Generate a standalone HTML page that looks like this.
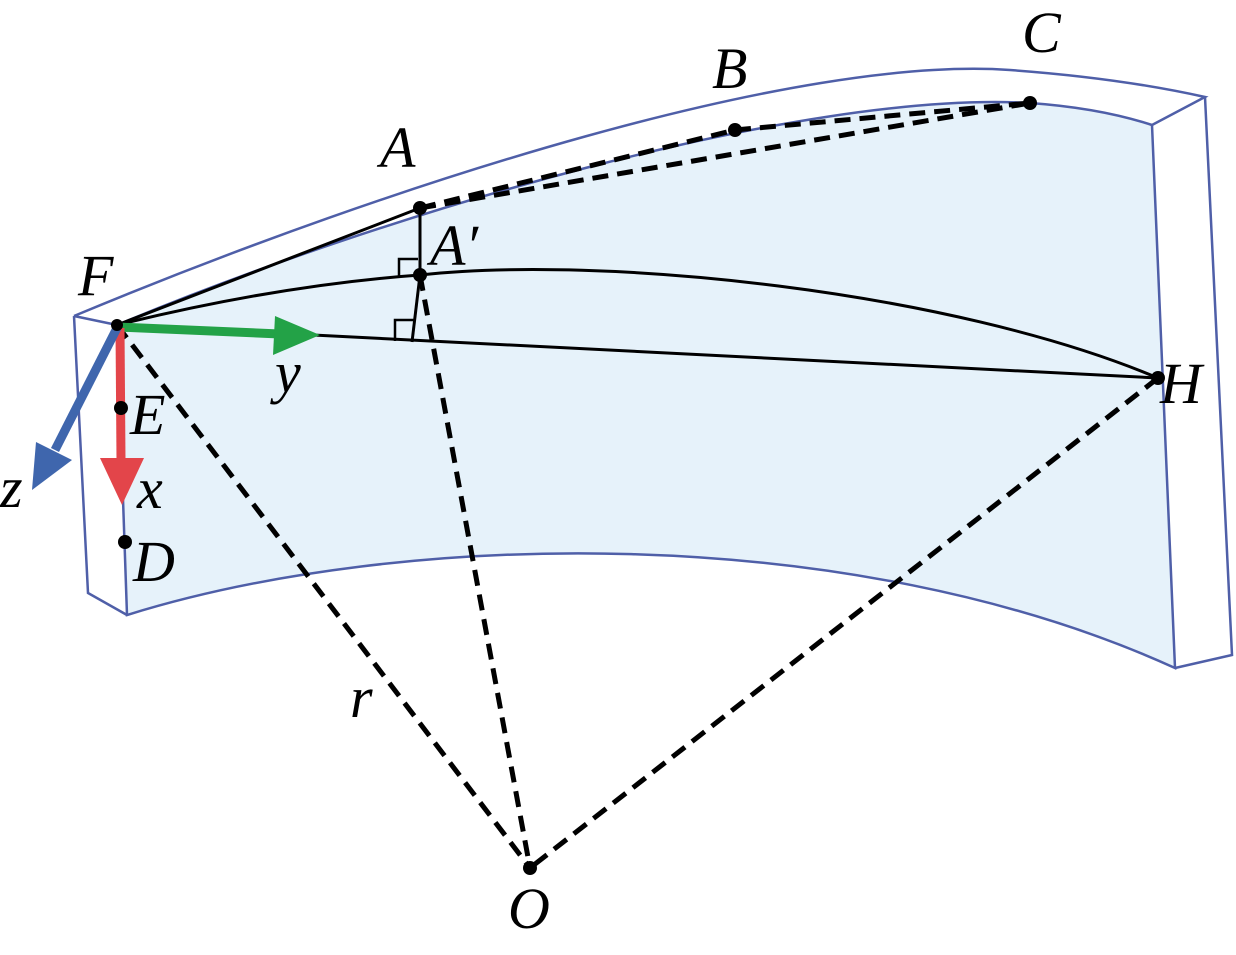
<!DOCTYPE html>
<html><head><meta charset="utf-8"><style>
html,body{margin:0;padding:0;background:#fff;}
svg text{font-family:"Liberation Serif",serif;font-style:italic;fill:#000;}
</style></head><body>
<svg width="1236" height="950" viewBox="0 0 1236 950" xmlns="http://www.w3.org/2000/svg">
<!-- front face -->
<path d="M117,325 C380,215 800,90 1030,103 Q1100,108 1152,125 L1175,668 C850,520 400,530 127,615 Z" fill="#e6f2fa" stroke="#4f5fa8" stroke-width="2.5"/>
<!-- top face -->
<path d="M74,316 C400,180 800,55 1010,70 Q1120,78 1205,97 L1152,125" fill="none" stroke="#4f5fa8" stroke-width="2.5"/>
<path d="M74,316 L117,325" fill="none" stroke="#4f5fa8" stroke-width="2.5"/>
<path d="M1205,97 L1232,655 L1175,668" fill="none" stroke="#4f5fa8" stroke-width="2.5"/>
<path d="M74,316 L88,593 L127,615" fill="none" stroke="#4f5fa8" stroke-width="2.5"/>
<!-- solid lines -->
<g stroke="#000" fill="none" stroke-width="3">
<line x1="117" y1="325" x2="420" y2="208"/>
<path d="M117,325 Q280,285 420,275"/>
<path d="M420,275 C600,255 950,290 1158,378"/>
<line x1="117" y1="325" x2="1158" y2="378"/>
<line x1="420" y1="208" x2="420" y2="275"/>
<line x1="420" y1="275" x2="412" y2="342"/>
<path d="M399,277 L399,259 L418,259" stroke-width="2.5"/>
<path d="M395,341 L395,320 L414,320" stroke-width="2.5"/>
</g>
<!-- dashed -->
<g stroke="#000" fill="none" stroke-width="5" stroke-dasharray="16,9">
<line x1="420" y1="208" x2="735" y2="130"/>
<line x1="735" y1="130" x2="1030" y2="103"/>
<line x1="420" y1="208" x2="1030" y2="103"/>
<line x1="117" y1="325" x2="530" y2="868"/>
<line x1="420" y1="275" x2="530" y2="868"/>
<line x1="1158" y1="378" x2="530" y2="868"/>
</g>
<!-- axes -->
<line x1="117" y1="327" x2="280" y2="334" stroke="#23a247" stroke-width="9"/>
<polygon points="320,335 275,316 273,355" fill="#23a247"/>
<line x1="120" y1="328" x2="121" y2="460" stroke="#e3454a" stroke-width="9"/>
<polygon points="122,505 100,458 144,458" fill="#e3454a"/>
<line x1="117" y1="328" x2="55" y2="450" stroke="#3f66ad" stroke-width="9"/>
<polygon points="32,490 36,442 72,460" fill="#3f66ad"/>
<!-- dots -->
<g fill="#000">
<circle cx="117" cy="325" r="6"/>
<circle cx="420" cy="208" r="7"/>
<circle cx="420" cy="275" r="7"/>
<circle cx="735" cy="130" r="7"/>
<circle cx="1030" cy="103" r="7"/>
<circle cx="1158" cy="378" r="7"/>
<circle cx="530" cy="868" r="7"/>
<circle cx="121" cy="408" r="7"/>
<circle cx="125" cy="542" r="7"/>
</g>
<!-- labels -->
<g font-size="58">
<text x="78" y="295">F</text>
<text x="380" y="167">A</text>
<text x="430" y="265">A′</text>
<text x="712" y="88">B</text>
<text x="1022" y="52">C</text>
<text x="1160" y="403">H</text>
<text x="508" y="928">O</text>
<text x="130" y="434">E</text>
<text x="133" y="581">D</text>
<text x="137" y="508">x</text>
<text x="0" y="507">z</text>
<text x="275" y="392">y</text>
<text x="350" y="717">r</text>
</g>
</svg>
</body></html>
